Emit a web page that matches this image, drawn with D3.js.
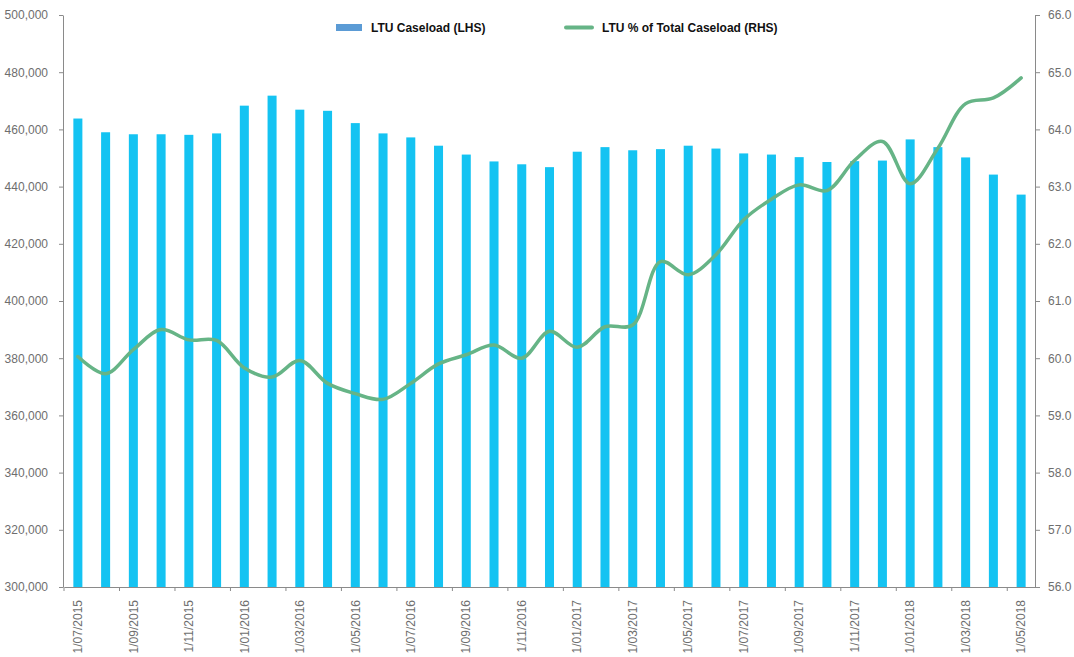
<!DOCTYPE html>
<html>
<head>
<meta charset="utf-8">
<script src="https://cdn.jsdelivr.net/npm/d3@7"></script>
<style>
  body { margin: 0; background: #fff; }
  svg { display: block; font-family: "Liberation Sans", Arial, sans-serif; }
  .axis path, .axis line { stroke: #8a8a8a; }
  .axis text { fill: #6e6e6e; font-size: 12px; }
</style>
</head>
<body>
<svg></svg>
<script>
// month labels, one per bar
var months = ["1/07/2015","1/08/2015","1/09/2015","1/10/2015","1/11/2015","1/12/2015",
  "1/01/2016","1/02/2016","1/03/2016","1/04/2016","1/05/2016","1/06/2016",
  "1/07/2016","1/08/2016","1/09/2016","1/10/2016","1/11/2016","1/12/2016",
  "1/01/2017","1/02/2017","1/03/2017","1/04/2017","1/05/2017","1/06/2017",
  "1/07/2017","1/08/2017","1/09/2017","1/10/2017","1/11/2017","1/12/2017",
  "1/01/2018","1/02/2018","1/03/2018","1/04/2018","1/05/2018"]

// LTU caseload (LHS)
var caseload = [463800,459000,458300,458300,458100,458600,
  468300,471800,466900,466500,462200,458600,
  457200,454300,451200,448800,447800,446800,
  452200,453800,452700,453100,454300,453300,
  451600,451200,450300,448600,448900,449100,
  456500,453800,450200,444200,437200]

// LTU % of total caseload (RHS)
var pct = [60.03,59.73,60.15,60.50,60.32,60.31,
  59.83,59.67,59.96,59.56,59.38,59.28,
  59.56,59.90,60.06,60.23,60.00,60.47,
  60.19,60.55,60.58,61.69,61.46,61.81,
  62.42,62.78,63.03,62.93,63.46,63.79,
  63.05,63.67,64.45,64.55,64.90]

var leftTicks = [300000,320000,340000,360000,380000,400000,420000,440000,460000,480000,500000]
var rightTicks = [56,57,58,59,60,61,62,63,64,65,66]

var screen = {width:1074, height:657}
var plot = {left:64, right:1035, top:15, bottom:587}

var svg = d3.select("svg")
    .attr("width",screen.width)
    .attr("height",screen.height)

var xScale = d3.scaleBand()
    .domain(months)
    .range([plot.left,plot.right])
    .paddingInner(0.675)
    .paddingOuter(0.3375)

var yLeft = d3.scaleLinear().domain([300000,500000]).range([plot.bottom,plot.top])
var yRight = d3.scaleLinear().domain([56,66]).range([plot.bottom,plot.top])

// bars
svg.append("g")
    .selectAll("rect")
    .data(caseload)
    .enter()
    .append("rect")
    .attr("x",function(d,i){return xScale(months[i])})
    .attr("y",function(d){return yLeft(d)})
    .attr("width",xScale.bandwidth())
    .attr("height",function(d){return plot.bottom-yLeft(d)})
    .attr("fill","#14c3f2")

// axes
var xAxis = d3.axisBottom(xScale)
    .tickValues(months.filter(function(d,i){return i%2==0}))
    .tickSize(4)
    .tickSizeOuter(0)

var gx = svg.append("g")
    .attr("class","axis")
    .attr("transform","translate(0,"+plot.bottom+")")
    .call(xAxis)

// ticks sit between bars, labels under the bar
gx.selectAll(".tick line")
    .attr("x1",-xScale.step()/2)
    .attr("x2",-xScale.step()/2)

gx.selectAll(".tick text")
    .attr("transform","rotate(-90)")
    .attr("text-anchor","end")
    .attr("x",-13)
    .attr("y",0)
    .attr("dy","0.35em")

svg.append("g")
    .attr("class","axis")
    .attr("transform","translate("+(plot.left-1)+",0)")
    .call(d3.axisLeft(yLeft).tickValues(leftTicks).tickFormat(d3.format(",")).tickSize(4).tickPadding(11).tickSizeOuter(0))

svg.append("g")
    .attr("class","axis")
    .attr("transform","translate("+plot.right+",0)")
    .call(d3.axisRight(yRight).tickValues(rightTicks).tickFormat(d3.format(".1f")).tickSize(5).tickPadding(8).tickSizeOuter(0))

// line
var line = d3.line()
    .x(function(d,i){return xScale(months[i])+xScale.bandwidth()/2})
    .y(function(d){return yRight(d)})
    .curve(d3.curveCatmullRom.alpha(0.5))

svg.append("path")
    .datum(pct)
    .attr("d",line)
    .attr("fill","none")
    .attr("stroke","#66b486")
    .attr("stroke-width",3.5)
    .attr("stroke-linejoin","round")
    .attr("stroke-linecap","round")

// legend
var legend = svg.append("g").attr("font-size","12px").attr("font-weight","bold").attr("fill","#111")

legend.append("rect")
    .attr("x",336).attr("y",24).attr("width",26).attr("height",7)
    .attr("fill","#5b9bd5")
legend.append("text")
    .attr("x",371).attr("y",32)
    .text("LTU Caseload (LHS)")

legend.append("line")
    .attr("x1",566).attr("x2",592).attr("y1",27.5).attr("y2",27.5)
    .attr("stroke","#66b486").attr("stroke-width",4).attr("stroke-linecap","round")
legend.append("text")
    .attr("x",602).attr("y",32)
    .text("LTU % of Total Caseload (RHS)")
</script>
</body>
</html>
